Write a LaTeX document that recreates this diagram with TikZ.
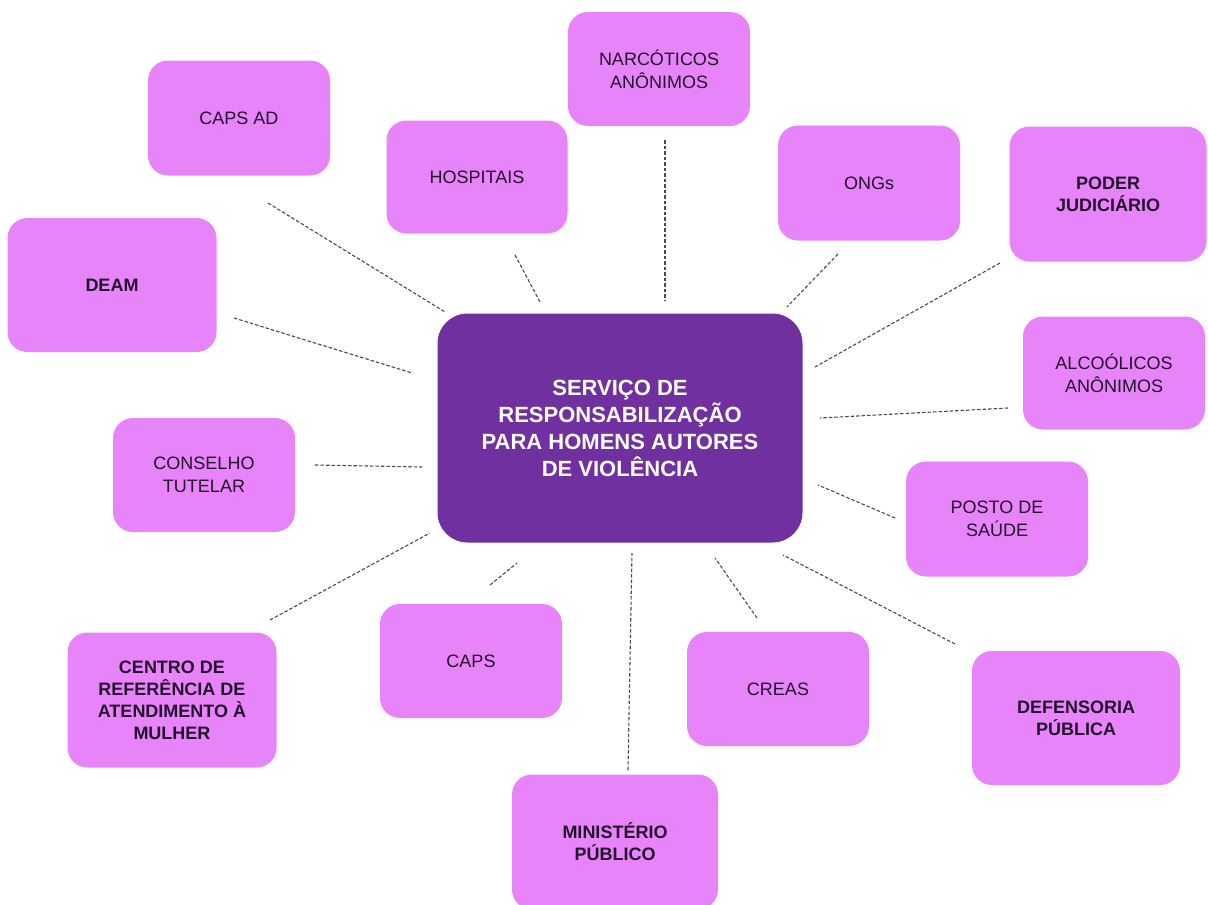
\documentclass[tikz,border=0pt]{standalone}
\usepackage{fontspec}
\setmainfont{Liberation Sans}
\definecolor{boxfill}{HTML}{E884F9}
\definecolor{hubfill}{HTML}{7030A0}
\definecolor{boxtext}{HTML}{24102C}
\definecolor{linkgray}{HTML}{4A4A4A}
\tikzset{
  item/.style={rounded corners=20pt, fill=boxfill, text=boxtext, align=center,
    font=\fontsize{18}{23}\selectfont, inner sep=0pt},
  itembold/.style={item, font=\fontsize{18}{22}\selectfont\bfseries},
  hub/.style={rounded corners=30pt, fill=hubfill, text=white, align=center,
    font=\fontsize{22}{27}\selectfont\bfseries, inner sep=0pt},
  link/.style={draw=linkgray, line width=1.1pt, dash pattern=on 3.5pt off 2pt}
}
\begin{document}
\begin{tikzpicture}[x=1pt,y=-1pt]
\useasboundingbox (0,0) rectangle (1208,905);
\fill[white] (0,0) rectangle (1208,905);

% central service
\node[hub, minimum width=365pt, minimum height=229pt] (hub) at (620,428)
  {SERVIÇO DE\\RESPONSABILIZAÇÃO\\PARA HOMENS AUTORES\\DE VIOLÊNCIA};

% partner services
\node[item, minimum width=182pt, minimum height=115pt] (capsad) at (239,118) {CAPS AD};
\node[item, minimum width=182pt, minimum height=114pt] (narc) at (659,69) {NARCÓTICOS\\ANÔNIMOS};
\node[item, minimum width=181pt, minimum height=113pt] (hosp) at (477,177) {HOSPITAIS};
\node[item, minimum width=182pt, minimum height=115pt] (ongs) at (869,183) {ONGs};
\node[itembold, minimum width=197pt, minimum height=135pt] (poder) at (1108,194) {PODER\\JUDICIÁRIO};
\node[itembold, minimum width=209pt, minimum height=134pt] (deam) at (112,285) {DEAM};
\node[item, minimum width=182pt, minimum height=113pt] (alc) at (1114,373) {ALCOÓLICOS\\ANÔNIMOS};
\node[item, minimum width=182pt, minimum height=114pt] (conselho) at (204,475) {CONSELHO\\TUTELAR};
\node[item, minimum width=182pt, minimum height=115pt] (posto) at (997,519) {POSTO DE\\SAÚDE};
\node[item, minimum width=182pt, minimum height=114pt] (caps) at (471,661) {CAPS};
\node[item, minimum width=182pt, minimum height=114pt] (creas) at (778,689) {CREAS};
\node[itembold, minimum width=209pt, minimum height=135pt] (crm) at (172,700)
  {CENTRO DE\\REFERÊNCIA DE\\ATENDIMENTO À\\MULHER};
\node[itembold, minimum width=208pt, minimum height=134pt] (def) at (1076,718) {DEFENSORIA\\PÚBLICA};
\node[itembold, minimum width=206pt, minimum height=135pt] (min) at (615,842) {MINISTÉRIO\\PÚBLICO};

% loose ends of the dotted links
\coordinate (capsad-a) at (268,203);   \coordinate (capsad-b) at (445,312);
\coordinate (hosp-a) at (515,255);     \coordinate (hosp-b) at (540,302);
\coordinate (narc-a) at (665,140);     \coordinate (narc-b) at (665,300);
\coordinate (ongs-a) at (838,254);     \coordinate (ongs-b) at (787,307);
\coordinate (poder-a) at (1000,263);   \coordinate (poder-b) at (815,367);
\coordinate (deam-a) at (234,318);     \coordinate (deam-b) at (412,373);
\coordinate (alc-a) at (1008,408);     \coordinate (alc-b) at (820,418);
\coordinate (cons-a) at (315,465);     \coordinate (cons-b) at (422,467);
\coordinate (posto-a) at (895,518);    \coordinate (posto-b) at (818,485);
\coordinate (crm-a) at (270,620);      \coordinate (crm-b) at (430,533);
\coordinate (caps-a) at (490,585);     \coordinate (caps-b) at (517,563);
\coordinate (min-a) at (628,770);      \coordinate (min-b) at (632,553);
\coordinate (creas-a) at (757,618);    \coordinate (creas-b) at (715,558);
\coordinate (def-a) at (955,644);      \coordinate (def-b) at (783,555);

\foreach \k in {capsad,hosp,narc,ongs,poder,deam,alc,cons,posto,crm,caps,min,creas,def}
  \draw[link] (\k-a) -- (\k-b);
\end{tikzpicture}
\end{document}
